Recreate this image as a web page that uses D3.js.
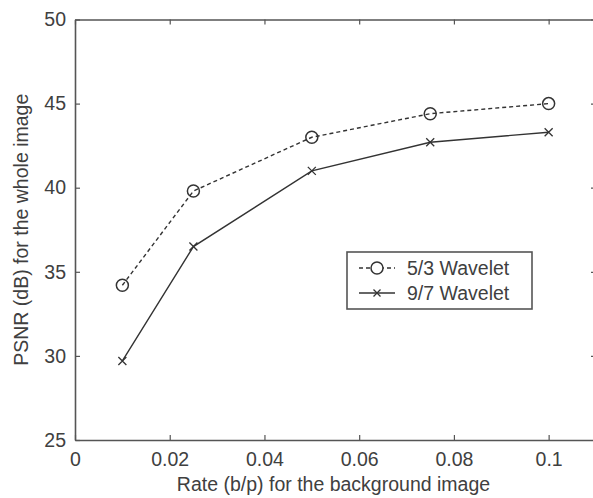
<!DOCTYPE html>
<html>
<head>
<meta charset="utf-8">
<script src="https://cdn.jsdelivr.net/npm/d3@7"></script>
<style>
  body { margin: 0; background: #fff; }
  text { font-family: "Liberation Sans", Arial, sans-serif; fill: #404040; }
</style>
</head>
<body>
<script>
// chart data
var rates = [0.01, 0.025, 0.05, 0.075, 0.1];
var psnr53 = [34.2, 39.8, 43.0, 44.4, 45.0];
var psnr97 = [29.7, 36.5, 41.0, 42.7, 43.3];
var xTicks = [0, 0.02, 0.04, 0.06, 0.08, 0.1];
var xTickLabels = ["0", "0.02", "0.04", "0.06", "0.08", "0.1"];
var yTicks = [25, 30, 35, 40, 45, 50];
var seriesNames = ["5/3 Wavelet", "9/7 Wavelet"];

var width = 593, height = 498;
var plotLeft = 75, plotRight = 596, plotTop = 19.5, plotBottom = 440;
var fontSize = "19.5px";

var svg = d3.select("body").append("svg")
    .attr("width", width)
    .attr("height", height);

var x = d3.scaleLinear().domain([0, 0.11]).range([plotLeft, plotRight]);
var y = d3.scaleLinear().domain([25, 50]).range([plotBottom, plotTop]);

var axisColor = "#555";

function styleAxis(g) {
  g.selectAll(".domain").attr("stroke", axisColor).attr("stroke-width", 1.6);
  g.selectAll(".tick line").attr("stroke", axisColor).attr("stroke-width", 1.2);
  g.selectAll(".tick text").style("font-size", fontSize).attr("fill", "#404040");
}

// bottom axis
svg.append("g")
    .attr("transform", "translate(0," + plotBottom + ")")
    .call(d3.axisBottom(x).tickValues(xTicks)
        .tickFormat(function(d, i) { return xTickLabels[i]; })
        .tickSizeInner(-5).tickSizeOuter(0).tickPadding(12))
    .call(styleAxis);

// top axis (ticks only)
svg.append("g")
    .attr("transform", "translate(0," + plotTop + ")")
    .call(d3.axisTop(x).tickValues(xTicks).tickFormat("")
        .tickSizeInner(-5).tickSizeOuter(0))
    .call(styleAxis);

// left axis
svg.append("g")
    .attr("transform", "translate(" + plotLeft + ",0)")
    .call(d3.axisLeft(y).tickValues(yTicks)
        .tickSizeInner(-5).tickSizeOuter(0).tickPadding(9))
    .call(styleAxis);

// right axis (ticks only)
svg.append("g")
    .attr("transform", "translate(" + plotRight + ",0)")
    .call(d3.axisRight(y).tickValues(yTicks).tickFormat("")
        .tickSizeInner(-5).tickSizeOuter(0))
    .call(styleAxis);

// axis titles
svg.append("text")
    .attr("x", (plotLeft + plotRight) / 2 - 2)
    .attr("y", 491)
    .attr("text-anchor", "middle")
    .style("font-size", fontSize)
    .text("Rate (b/p) for the background image");

svg.append("text")
    .attr("transform", "translate(28," + ((plotTop + plotBottom) / 2) + ") rotate(-90)")
    .attr("text-anchor", "middle")
    .style("font-size", fontSize)
    .text("PSNR (dB) for the whole image");

var line = d3.line()
    .x(function(d) { return x(d[0]); })
    .y(function(d) { return y(d[1]); });

var lineColor = "#333";

var data53 = rates.map(function(r, i) { return [r, psnr53[i]]; });
var data97 = rates.map(function(r, i) { return [r, psnr97[i]]; });

// 5/3 series, dashed with circles
svg.append("path")
    .datum(data53)
    .attr("d", line)
    .attr("fill", "none")
    .attr("stroke", lineColor)
    .attr("stroke-width", 1.4)
    .attr("stroke-dasharray", "4,3");

svg.selectAll(".c53")
    .data(data53)
    .enter().append("circle")
    .attr("class", "c53")
    .attr("cx", function(d) { return x(d[0]); })
    .attr("cy", function(d) { return y(d[1]); })
    .attr("r", 6)
    .attr("fill", "none")
    .attr("stroke", lineColor)
    .attr("stroke-width", 1.5);

// 9/7 series, solid with x marks
svg.append("path")
    .datum(data97)
    .attr("d", line)
    .attr("fill", "none")
    .attr("stroke", lineColor)
    .attr("stroke-width", 1.4);

function xMark(g, cx, cy, s) {
  g.append("path")
    .attr("d", "M" + (cx - s) + "," + (cy - s) + "L" + (cx + s) + "," + (cy + s) +
               "M" + (cx - s) + "," + (cy + s) + "L" + (cx + s) + "," + (cy - s))
    .attr("stroke", lineColor)
    .attr("stroke-width", 1.3);
}

data97.forEach(function(d) { xMark(svg, x(d[0]), y(d[1]), 4); });

// legend
var legend = svg.append("g");
legend.append("rect")
    .attr("x", 347).attr("y", 252)
    .attr("width", 185).attr("height", 57)
    .attr("fill", "#fff")
    .attr("stroke", axisColor)
    .attr("stroke-width", 1.6);

var legendRows = [268, 293];
legendRows.forEach(function(ly, i) {
  var ln = legend.append("line")
      .attr("x1", 359).attr("x2", 395)
      .attr("y1", ly).attr("y2", ly)
      .attr("stroke", lineColor)
      .attr("stroke-width", 1.4);
  if (i === 0) {
    ln.attr("stroke-dasharray", "4,3");
    legend.append("circle").attr("cx", 377).attr("cy", ly).attr("r", 6)
        .attr("fill", "#fff").attr("stroke", lineColor).attr("stroke-width", 1.5);
  } else {
    xMark(legend, 377, ly, 3.5);
  }
  legend.append("text")
      .attr("x", 407).attr("y", ly)
      .attr("dy", "0.35em")
      .style("font-size", fontSize)
      .text(seriesNames[i]);
});
</script>
</body>
</html>
